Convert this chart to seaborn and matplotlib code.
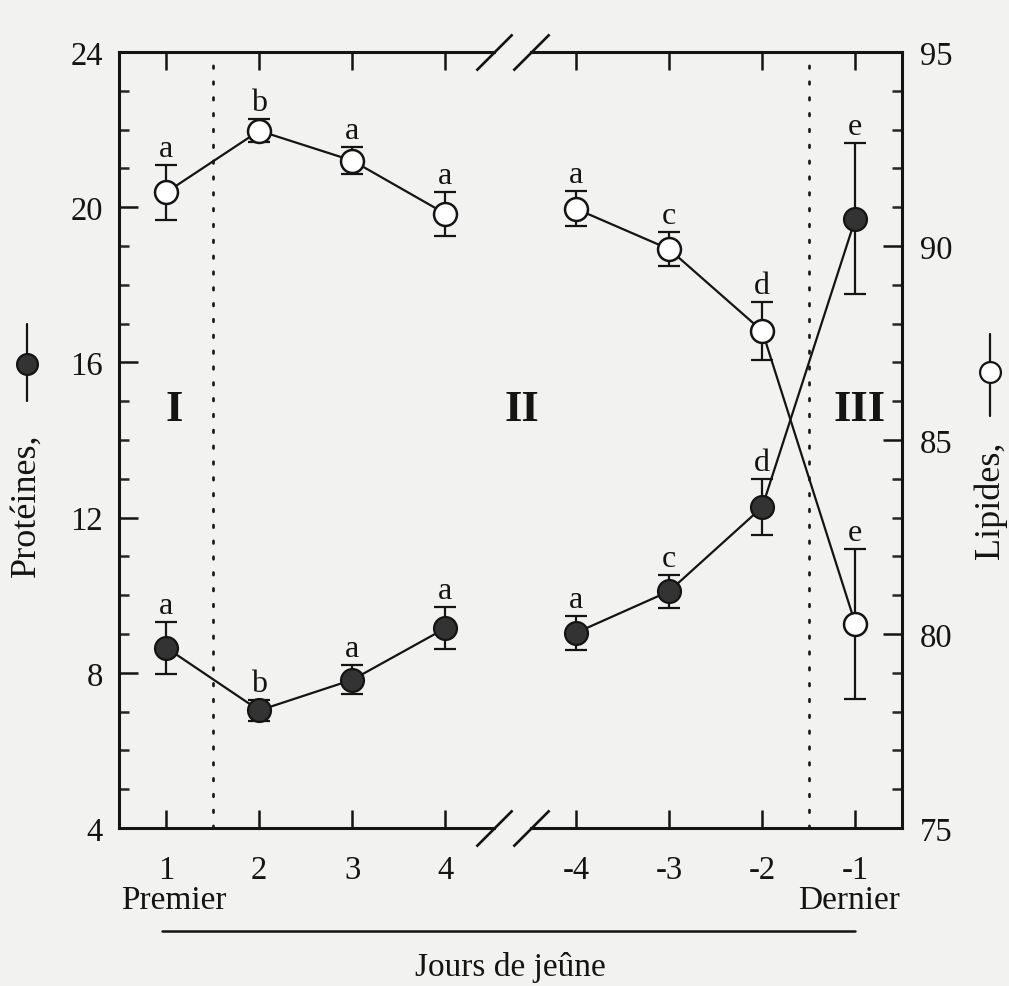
import numpy as np
import pandas as pd
import matplotlib
matplotlib.use("Agg")
import matplotlib.pyplot as plt
import seaborn as sns
from matplotlib.lines import Line2D
from matplotlib.ticker import MultipleLocator

# Fasting days (first four and last four days of the fast)
jours = ["1", "2", "3", "4", "-4", "-3", "-2", "-1"]
periode = ["debut", "debut", "debut", "debut", "fin", "fin", "fin", "fin"]

# Protein share (left axis) with standard errors and significance letters
proteines = [8.65, 7.03, 7.82, 9.15, 9.03, 10.10, 12.27, 19.70]
proteines_err = [0.67, 0.28, 0.37, 0.54, 0.44, 0.42, 0.73, 1.95]
proteines_lettres = ["a", "b", "a", "a", "a", "c", "d", "e"]

# Lipid share (right axis) with standard errors and significance letters
lipides = [91.38, 92.97, 92.20, 90.83, 90.96, 89.92, 87.81, 80.26]
lipides_err = [0.70, 0.30, 0.35, 0.56, 0.45, 0.43, 0.75, 1.93]
lipides_lettres = ["a", "b", "a", "a", "a", "c", "d", "e"]

phases = ["I", "II", "III"]

# x positions: the two blocks of days are separated by a broken axis
ecart = 1.4
pos = np.array([1, 2, 3, 4, 3 + ecart + 1, 3 + ecart + 2, 3 + ecart + 3, 3 + ecart + 4])

df = pd.DataFrame({
    "pos": pos, "jour": jours, "periode": periode,
    "proteines": proteines, "proteines_err": proteines_err,
    "lipides": lipides, "lipides_err": lipides_err,
})

sns.set_theme(style="ticks")
plt.rcParams["font.family"] = ["Liberation Serif", "DejaVu Serif"]

BG = "#f2f2f0"
INK = "#141414"
FILL = "#333333"
LW = 1.6
MS = 16.5

fig = plt.figure(figsize=(10.09, 9.87), dpi=100, facecolor=BG)
ax = fig.add_axes([0.1184, 0.1601, 0.7755, 0.7862])
ax.set_facecolor(BG)
ax2 = ax.twinx()
ax2.patch.set_visible(False)

# Protein series: filled circles
ax.errorbar(df["pos"], df["proteines"], yerr=df["proteines_err"], fmt="none",
            ecolor=INK, elinewidth=LW, capsize=8, capthick=LW, zorder=1.5)
sns.lineplot(data=df, x="pos", y="proteines", units="periode", estimator=None,
             ax=ax, color=INK, lw=LW, marker="o", markersize=MS,
             markerfacecolor=FILL, markeredgecolor=INK, markeredgewidth=LW,
             legend=False, zorder=2)

# Lipid series: open circles
ax2.errorbar(df["pos"], df["lipides"], yerr=df["lipides_err"], fmt="none",
             ecolor=INK, elinewidth=LW, capsize=8, capthick=LW, zorder=1.5)
sns.lineplot(data=df, x="pos", y="lipides", units="periode", estimator=None,
             ax=ax2, color=INK, lw=LW, marker="o", markersize=MS,
             markerfacecolor="white", markeredgecolor=INK, markeredgewidth=1.8,
             legend=False, zorder=2)

# Significance letters above the error bars
for x, y, e, t in zip(df["pos"], df["proteines"], df["proteines_err"], proteines_lettres):
    ax.annotate(t, (x, y + e), xytext=(0, 6.5), textcoords="offset points",
                ha="center", va="baseline", fontsize=23, color=INK)
for x, y, e, t in zip(df["pos"], df["lipides"], df["lipides_err"], lipides_lettres):
    ax2.annotate(t, (x, y + e), xytext=(0, 6.5), textcoords="offset points",
                 ha="center", va="baseline", fontsize=23, color=INK)

# Axis limits and ticks
ax.set_xlim(0.5, 8.9)
ax.set_ylim(4, 24)
ax2.set_ylim(75, 95)
ax.set_xticks(pos, labels=jours)
ax.set_yticks(range(4, 25, 4))
ax.yaxis.set_minor_locator(MultipleLocator(1))
ax2.set_yticks(range(75, 96, 5))
ax2.yaxis.set_minor_locator(MultipleLocator(1))

ax.tick_params(axis="x", which="major", direction="in", top=True, bottom=True,
               length=13, width=1.8, pad=19, labelsize=23.5, colors=INK)
ax.tick_params(axis="x", which="minor", bottom=False, top=False)
ax.tick_params(axis="y", which="major", direction="in", left=True, right=False,
               length=13.5, width=1.8, pad=12, labelsize=23.5, colors=INK)
ax.tick_params(axis="y", which="minor", direction="in", left=True, right=False,
               length=7, width=1.8)
ax2.tick_params(axis="y", which="major", direction="in", right=True, left=False,
                length=13.5, width=1.8, pad=13, labelsize=23.5, colors=INK)
ax2.tick_params(axis="y", which="minor", direction="in", right=True, left=False,
                length=7, width=1.8)
ax.set_xlabel("")
ax.set_ylabel("")
ax2.set_ylabel("")

# Frame: vertical spines, horizontal spines interrupted at the axis break
for a in (ax, ax2):
    for s in a.spines.values():
        s.set_visible(False)
ax.spines["left"].set_visible(True)
ax.spines["left"].set_linewidth(2.2)
ax.spines["left"].set_color(INK)
ax2.spines["right"].set_visible(True)
ax2.spines["right"].set_linewidth(2.2)
ax2.spines["right"].set_color(INK)

coupure = [4.52, 4.92]
xt = ax.get_xaxis_transform()
for yy in (0, 1):
    ax.plot([0.5, coupure[0]], [yy, yy], transform=xt, color=INK, lw=2.2,
            clip_on=False, solid_capstyle="projecting", zorder=3)
    ax.plot([coupure[1], 8.9], [yy, yy], transform=xt, color=INK, lw=2.2,
            clip_on=False, solid_capstyle="projecting", zorder=3)
    ax.plot(coupure, [yy, yy], transform=xt, ls="none", color=INK,
            marker=[(-1, -1), (1, 1)], markersize=26, markeredgewidth=1.9,
            clip_on=False, zorder=3)

# Phase boundaries
for xb in (1.5, pos[-1] - 0.5):
    ax.axvline(xb, color=INK, lw=1.9, ls=(0, (1, 5)), dash_capstyle="round",
               zorder=1)

# Phase numerals
for x, t in zip([1.09, 4.82, 8.44], phases):
    ax.text(x, 14.8, t, ha="center", va="center", fontsize=32,
            fontweight="bold", color=INK)

# Day annotations below the axis
ax.text(1.08, -0.093, "Premier", transform=xt, ha="center", va="center",
        fontsize=24, color=INK)
ax.text(8.33, -0.093, "Dernier", transform=xt, ha="center", va="center",
        fontsize=24, color=INK)
ax.plot([pos[0] - 0.04, pos[-1]], [-0.1323, -0.1323], transform=xt, color=INK,
        lw=1.8, clip_on=False)
ax.text(0.5, -0.178, "Jours de jeûne", transform=ax.transAxes, ha="center",
        va="center", fontsize=24, color=INK)

# Axis titles with their series symbols
fy = lambda p: 1 - p / 987
fig.text(26 / 1009, fy(505), "Protéines,", rotation=90, ha="center",
         va="center", fontsize=26, color=INK)
fx = 26.7 / 1009
fig.add_artist(Line2D([fx, fx], [fy(325), fy(402)], transform=fig.transFigure,
                      color=INK, lw=LW))
fig.add_artist(Line2D([fx], [fy(365)], transform=fig.transFigure, marker="o",
                      markersize=15, markerfacecolor=FILL, markeredgecolor=INK,
                      markeredgewidth=LW, ls="none"))

fig.text(990 / 1009, fy(500), "Lipides,", rotation=90, ha="center",
         va="center", fontsize=26, color=INK)
rx = 990 / 1009
fig.add_artist(Line2D([rx, rx], [fy(335), fy(417)], transform=fig.transFigure,
                      color=INK, lw=LW))
fig.add_artist(Line2D([rx], [fy(373)], transform=fig.transFigure, marker="o",
                      markersize=15, markerfacecolor="white", markeredgecolor=INK,
                      markeredgewidth=LW, ls="none"))

fig.savefig("out.png", dpi=100, facecolor=BG)
